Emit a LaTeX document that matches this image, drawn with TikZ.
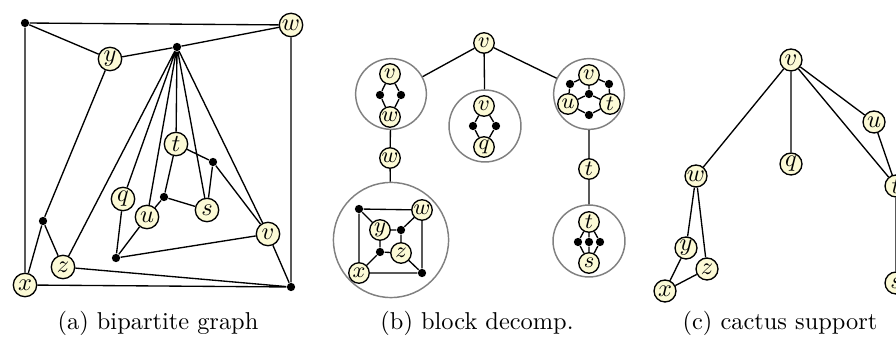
\documentclass[tikz,border=0pt]{standalone}
\definecolor{nodefill}{RGB}{252,250,214}
\tikzset{
  wn/.style={circle,draw,fill=nodefill,inner sep=0pt,minimum size=9.6pt,line width=0.55pt},
  wns/.style={wn,minimum size=8.4pt,font=\small},
  wnc/.style={wn,minimum size=9pt},
  bn/.style={circle,fill=black,inner sep=0pt,minimum size=3.4pt},
  blk/.style={circle,draw=black!50,line width=0.6pt,inner sep=0pt},
  ed/.style={line width=0.55pt},
  captxt/.style={anchor=base,inner sep=0pt}
}
\begin{document}
\begin{tikzpicture}[x=0.41pt,y=-0.41pt]
\useasboundingbox (0,0) rectangle (896,338);
% ---------------- (a) ----------------
\node[bn] (aTL) at (25,23) {};
\node[wn] (aw) at (291,25) {$w$};
\node[wn] (ay) at (110,59) {$y$};
\node[bn] (ah) at (177,47) {};
\node[wn] (at) at (176,144) {$t$};
\node[bn] (ad1) at (213,162) {};
\node[wn] (aq) at (123,199) {$q$};
\node[wn] (au) at (147,217) {$u$};
\node[bn] (ad2) at (164,197) {};
\node[wn] (as) at (207,210) {$s$};
\node[wn] (av) at (268,234) {$v$};
\node[bn] (al) at (43,221) {};
\node[wn] (az) at (63,267) {$z$};
\node[bn] (ad3) at (116,258) {};
\node[wn] (ax) at (25,285) {$x$};
\node[bn] (aBR) at (291,287) {};
\draw[ed] (aTL) -- (aw) (aTL) -- (ax) (ax) -- (aBR) (aw) -- (aBR)
  (aTL) -- (ay) (ay) -- (ah) (ah) -- (aw)
  (ay) -- (al) (al) -- (ax) (al) -- (az) (az) -- (aBR) (az) -- (ah)
  (ah) -- (aq) (ah) -- (au) (ah) -- (at) (ah) -- (as) (ah) -- (av)
  (at) -- (ad1) (ad1) -- (as) (ad1) -- (av)
  (at) -- (ad2) (ad2) -- (as) (ad2) -- (au)
  (au) -- (ad3) (aq) -- (ad3) (ad3) -- (av) (av) -- (aBR);
\node[captxt] (capa) at (158,330) {(a) bipartite graph};
% ---------------- (b) ----------------
\node[wns] (bv) at (484,43) {$v$};
\node[blk,minimum size=29pt] (B1) at (391,94) {};
\node[blk,minimum size=29.5pt] (B2) at (485,126) {};
\node[blk,minimum size=29pt] (B3) at (589,94) {};
\node[wns] (bw) at (390,158) {$w$};
\node[blk,minimum size=47.2pt] (B4) at (391,240) {};
\node[wns] (bt) at (589,169) {$t$};
\node[blk,minimum size=29.5pt] (B5) at (589,241) {};
\draw[ed] (bv) -- (B1) (bv) -- (B2) (bv) -- (B3)
  (B1) -- (bw) (bw) -- (B4) (B3) -- (bt) (bt) -- (B5);
% block 1
\node[wns] (b1v) at (390,74) {$v$};
\node[wns] (b1w) at (390,117) {$w$};
\node[bn] (b1a) at (380,95) {};
\node[bn] (b1b) at (401,95) {};
\draw[ed] (b1v) -- (b1a) -- (b1w) (b1v) -- (b1b) -- (b1w);
% block 2
\node[wns] (b2v) at (484,106) {$v$};
\node[wns] (b2q) at (484,147) {$q$};
\node[bn] (b2a) at (473,126) {};
\node[bn] (b2b) at (496,126) {};
\draw[ed] (b2v) -- (b2a) -- (b2q) (b2v) -- (b2b) -- (b2q);
% block 3
\node[wns] (b3v) at (589,75) {$v$};
\node[wns] (b3u) at (568,104) {$u$};
\node[wns] (b3t) at (610,104) {$t$};
\node[bn] (b3a) at (570,84) {};
\node[bn] (b3b) at (609,84) {};
\node[bn] (b3c) at (589,94) {};
\node[bn] (b3d) at (589,115) {};
\draw[ed] (b3v) -- (b3a) -- (b3u) (b3v) -- (b3b) -- (b3t)
  (b3v) -- (b3c) (b3c) -- (b3u) (b3c) -- (b3t)
  (b3u) -- (b3d) -- (b3t);
% block 4
\node[bn] (b4TL) at (359,209) {};
\node[wns] (b4w) at (422,210) {$w$};
\node[wns] (b4y) at (380,230) {$y$};
\node[bn] (b4h) at (401,230) {};
\node[bn] (b4l) at (380,252) {};
\node[wns] (b4z) at (401,253) {$z$};
\node[wns] (b4x) at (359,273) {$x$};
\node[bn] (b4BR) at (422,273) {};
\draw[ed] (b4TL) -- (b4w) (b4TL) -- (b4x) (b4x) -- (b4BR) (b4w) -- (b4BR)
  (b4TL) -- (b4y) (b4y) -- (b4h) (b4h) -- (b4w) (b4h) -- (b4z)
  (b4y) -- (b4l) (b4l) -- (b4x) (b4l) -- (b4z) (b4z) -- (b4BR);
% block 5
\node[wns] (b5t) at (589,222) {$t$};
\node[wns] (b5s) at (589,263) {$s$};
\node[bn] (b5a) at (578,242) {};
\node[bn] (b5b) at (589,242) {};
\node[bn] (b5c) at (600,242) {};
\draw[ed] (b5t) -- (b5a) -- (b5s) (b5t) -- (b5b) -- (b5s) (b5t) -- (b5c) -- (b5s);
\node[captxt] (capb) at (477,330) {(b) block decomp.};
% ---------------- (c) ----------------
\node[wnc] (cv) at (791,60) {$v$};
\node[wnc] (cw) at (696,176) {$w$};
\node[wnc] (cq) at (791,164) {$q$};
\node[wnc] (cu) at (874,122) {$u$};
\node[wnc] (ct) at (896,186) {$t$};
\node[wnc] (cs) at (896,283) {$s$};
\node[wnc] (cy) at (686,248) {$y$};
\node[wnc] (cz) at (707,269) {$z$};
\node[wnc] (cx) at (665,291) {$x$};
\draw[ed] (cv) -- (cw) (cv) -- (cq) (cv) -- (cu) (cv) -- (ct) (cu) -- (ct) (ct) -- (cs)
  (cw) -- (cy) (cw) -- (cz) (cy) -- (cx) (cx) -- (cz);
\node[captxt] (capc) at (780,330) {(c) cactus support};
\end{tikzpicture}
\end{document}
